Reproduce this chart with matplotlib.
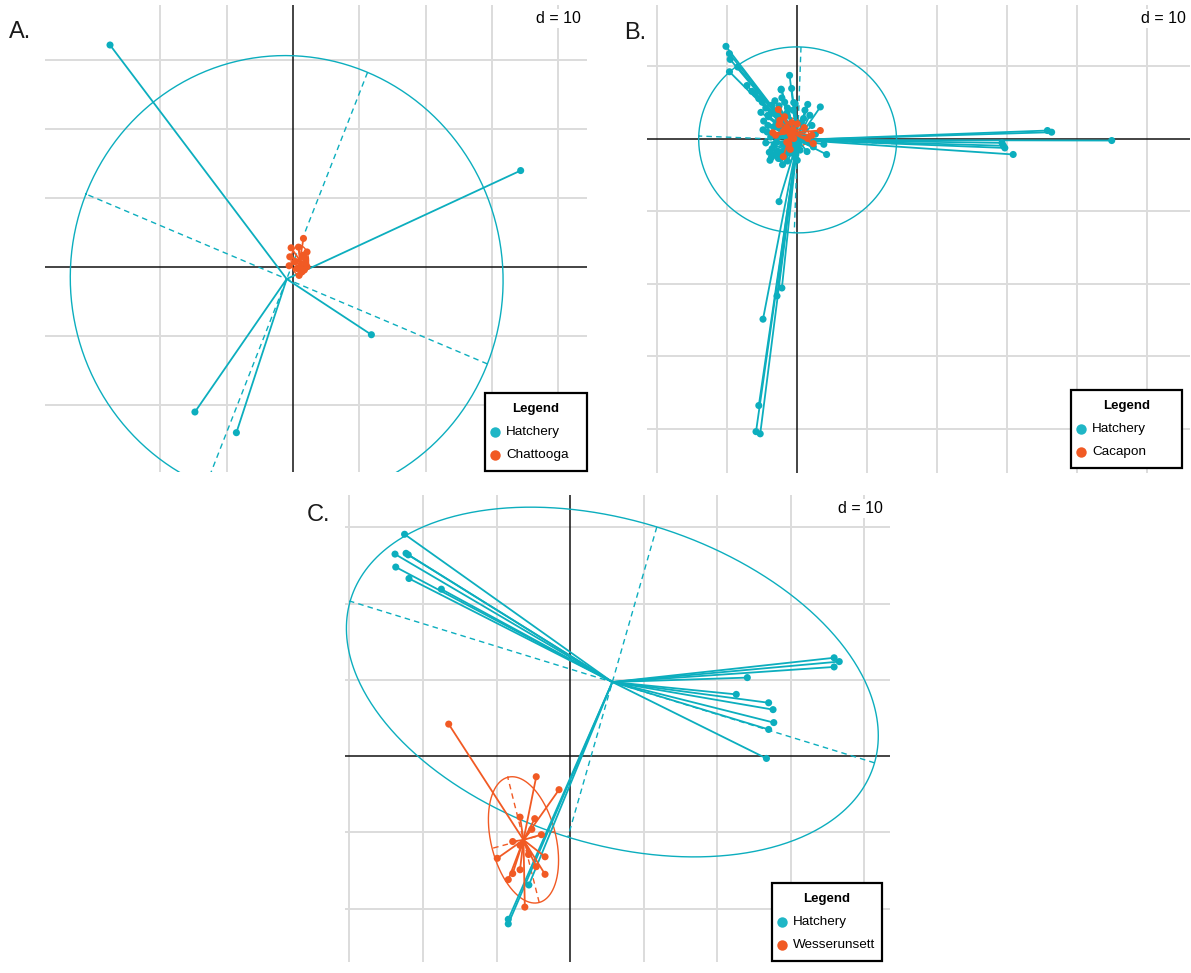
import numpy as np
import matplotlib
matplotlib.use("Agg")
import matplotlib.pyplot as plt
from matplotlib.patches import Rectangle
from matplotlib.lines import Line2D
from matplotlib.collections import LineCollection

plt.rcParams['font.family'] = ['Liberation Sans', 'DejaVu Sans']

W, H = 1191, 973
TEAL = '#0CAEBE'
TEAL_LEG = '#1FB6C6'
ORANGE = '#F15A24'
GRID = '#DCDCDC'

# ---------------- Panel A ----------------
a_hatch_x = [-27.6, 34.3, 11.8, -14.8, -8.55]
a_hatch_y = [32.2, 14.0, -9.8, -21.0, -24.0]
a_pop_x = [1.56, -0.3, -0.5, -0.6, 0.8, 2.1, 1.8, 1.9, 1.06, 0.56, 1.3, 0.9, 1.7, 2.1, 1.56, 0.3]
a_pop_y = [4.16, 2.8, 1.5, 0.2, 2.9, 2.2, 1.26, 0.5, 0.05, -0.2, -0.7, -1.2, -0.4, 0.05, 1.74, 0.77]
a_pop_name = "Chattooga"

# ---------------- Panel B ----------------
b_hatch_x = [
    # upper-left outliers
    -10.2, -9.7, -9.6, -9.7, -8.5,
    # right outliers
    35.8, 36.4, 45.0, 29.3, 29.5, 29.7, 30.9,
    # lower outliers
    -2.6, -4.9, -2.9, -2.2, -5.5, -5.9, -5.3,
    # central cloud
    -1.1, -2.3, -2.2, -0.3, 1.5, 3.3, -3.6, -4.2, -1.4, -2.3, -0.8,
    -4.2, -2.8, 1.4, 1.8, 3.8, 4.2, -2.7, -1.9, -0.5, 1.1, 0.9,
    -4.1, -3.4, -4.3, 2.1, 2.3, -3.4, -2.4, -1.7, -0.5, -5.5, -5.0,
    -4.5, -3.0, -3.5, -2.5, -2.0, -1.5, -1.0, -0.5, 0.0, -3.0, -2.2,
    -1.5, -0.8, 0.5, -3.8, -3.0, -2.0, -1.0, 0.2, 1.0, -1.2, -0.3,
    -2.6, -3.2, -1.8, -4.8, 0.6, -0.2, 1.6, -3.6, -4.5, -2.9, -1.4,
    -3.9, -2.1, -0.9, 0.4, -4.9, -5.2, -2.6, -1.9, -3.3, -0.6, -2.8,
    -6.5, -7.2, -6.0, -4.0, -1.6, 0.8, 2.6, -2.4, -3.7, -1.2, -0.2,
]
b_hatch_y = [
    12.7, 11.7, 10.9, 9.2, 9.85,
    1.1, 0.87, -0.28, -0.6, -1.0, -1.3, -2.2,
    -8.7, -24.9, -21.7, -20.6, -36.8, -40.4, -40.7,
    8.7, 6.7, 5.6, 4.8, 4.7, 4.35, 4.6, 3.2, 4.2, 6.8, 6.9,
    1.8, 1.65, -1.8, 3.2, -0.8, -2.2, -2.75, -2.3, 4.95, 3.9, 2.75,
    3.0, 1.6, 0.9, 1.8, -1.15, -2.3, -2.75, -2.1, -1.4, 5.5, 5.0,
    4.2, 3.8, 3.5, 3.0, 2.5, 3.5, 2.0, 1.5, -3.0, 2.2, 1.0,
    0.5, 0.8, 0.5, 0.2, -0.5, -0.8, -0.3, -0.8, 0.2, -1.6, -2.6,
    4.5, 5.2, 5.0, 2.4, 2.2, -2.2, -0.5, -1.4, -0.6, -1.8, -3.1,
    -3.0, -3.6, -2.0, -1.6, 1.2, 3.6, 0.3, 1.9, -0.9, 3.9, 3.9,
    6.5, 7.3, 6.2, -1.9, -0.9, -0.2, 0.6, -2.0, -2.6, -1.2, 0.4,
]
b_pop_x = [-2.7, -3.1, 3.3, 2.1, 2.3, -2.0, -1.5, 0.0, -0.5, 1.0, -2.0, -1.5, -1.0, 1.5,
           -2.5, -3.5, -1.8, -0.8, -1.2, -2.6, -0.8, -1.0, -0.6, -1.2, -0.9, -0.7]
b_pop_y = [4.0, 0.45, 1.1, 0.45, -0.7, -2.5, 1.5, 2.0, 0.0, 1.5, 1.0, -0.5, -1.5, 0.0,
           2.5, 0.8, 3.0, 2.2, -0.8, 1.9, 0.9, 0.6, 1.2, 1.0, 0.5, 0.8]
b_pop_name = "Cacapon"

# ---------------- Panel C ----------------
c_hatch_x = [-22.5, -23.8, -22.3, -22.0, -23.7, -21.9, -17.5, 35.9, 36.6, 35.9,
             24.1, 22.6, 27.0, 27.6, 27.7, 27.0, 26.7, -5.6, -8.4, -8.4]
c_hatch_y = [29.1, 26.5, 26.6, 26.4, 24.8, 23.3, 21.9, 12.9, 12.4, 11.7,
             10.3, 8.1, 7.0, 6.1, 4.4, 3.5, -0.3, -16.9, -21.4, -22.0]
c_pop_x = [-16.5, -4.6, -1.5, -6.8, -4.8, -5.2, -3.9, -7.8, -6.8, -9.9, -5.65, -3.4,
           -4.6, -6.8, -7.8, -8.4, -3.4, -6.15]
c_pop_y = [4.2, -2.7, -4.4, -8.0, -8.2, -9.6, -10.3, -11.2, -11.7, -13.4, -12.9, -13.2,
           -14.5, -14.9, -15.4, -16.2, -15.5, -19.8]
c_pop_name = "Wesserunsett"

fig = plt.figure(figsize=(W / 100, H / 100), dpi=100)


def fx(x):
    return x / W


def fy(y):
    return 1 - y / H


def add_axes_px(left, top, right, bottom):
    return fig.add_axes([left / W, 1 - bottom / H, (right - left) / W, (bottom - top) / H])


def draw_ellipse(ax, x, y, color):
    x = np.asarray(x, float)
    y = np.asarray(y, float)
    mx, my = x.mean(), y.mean()
    cov = np.cov(np.vstack([x, y]), bias=True)
    vals, vecs = np.linalg.eigh(cov)
    a = 1.5 * np.sqrt(vals[1])
    b = 1.5 * np.sqrt(vals[0])
    v1 = vecs[:, 1]
    v2 = vecs[:, 0]
    t = np.linspace(0, 2 * np.pi, 500)
    ex = mx + a * np.cos(t) * v1[0] + b * np.sin(t) * v2[0]
    ey = my + a * np.cos(t) * v1[1] + b * np.sin(t) * v2[1]
    ax.plot(ex, ey, color=color, lw=1.0, zorder=2)
    ax.plot([mx - a * v1[0], mx + a * v1[0]], [my - a * v1[1], my + a * v1[1]],
            color=color, lw=1.0, ls=(0, (4, 3)), zorder=2)
    ax.plot([mx - b * v2[0], mx + b * v2[0]], [my - b * v2[1], my + b * v2[1]],
            color=color, lw=1.0, ls=(0, (4, 3)), zorder=2)


def draw_star(ax, x, y, color, z):
    x = np.asarray(x, float)
    y = np.asarray(y, float)
    mx, my = x.mean(), y.mean()
    segs = [[(mx, my), (xi, yi)] for xi, yi in zip(x, y)]
    ax.add_collection(LineCollection(segs, colors=color, linewidths=1.3, zorder=z))
    ax.scatter(x, y, s=26, color=color, edgecolors='none', zorder=z + 0.5)


def panel(box, xlim, ylim, xgrid, ygrid, hx, hy, px, py):
    ax = add_axes_px(*box)
    ax.set_xlim(xlim)
    ax.set_ylim(ylim)
    ax.axis('off')
    for g in xgrid:
        ax.axvline(g, color=GRID, lw=1.4, zorder=0)
    for g in ygrid:
        ax.axhline(g, color=GRID, lw=1.4, zorder=0)
    ax.axvline(0, color='#111111', lw=1.1, zorder=1)
    ax.axhline(0, color='#111111', lw=1.1, zorder=1)
    draw_ellipse(ax, hx, hy, TEAL)
    draw_ellipse(ax, px, py, ORANGE)
    draw_star(ax, hx, hy, TEAL, 3)
    draw_star(ax, px, py, ORANGE, 5)
    return ax


def legend_px(x0, y0, x1, y1, name):
    fig.add_artist(Rectangle((fx(x0), fy(y1)), (x1 - x0) / W, (y1 - y0) / H,
                             transform=fig.transFigure, facecolor='white',
                             edgecolor='black', lw=1.6, zorder=5))
    cx = (x0 + x1) / 2
    fig.text(fx(cx), fy(y0 + 16), "Legend", fontsize=9.5, fontweight='bold',
             ha='center', va='center', zorder=6)
    mxp = x0 + 10
    for i, (lab, col) in enumerate([("Hatchery", TEAL_LEG), (name, ORANGE)]):
        yy = y0 + 39 + 23 * i
        fig.add_artist(Line2D([fx(mxp)], [fy(yy)], marker='o', ms=7.5, color=col,
                              markeredgewidth=0, transform=fig.transFigure, zorder=6))
        fig.text(fx(mxp + 11), fy(yy), lab, fontsize=9.7, ha='left', va='center', zorder=6)


# Panel A
panel((45, 5, 587, 472), (-37.4, 44.3), (-29.7, 38.0),
      [-20, -10, 10, 20, 30, 40], [-20, -10, 10, 20, 30],
      a_hatch_x, a_hatch_y, a_pop_x, a_pop_y)
# Panel B
panel((647, 5, 1190, 473), (-21.5, 56.2), (-46.1, 18.4),
      [-20, -10, 10, 20, 30, 40, 50], [-40, -30, -20, -10, 10],
      b_hatch_x, b_hatch_y, b_pop_x, b_pop_y)
# Panel C
panel((345, 495, 890, 962), (-30.6, 43.5), (-27.0, 34.25),
      [-30, -20, -10, 10, 20, 30, 40], [-20, -10, 10, 20, 30],
      c_hatch_x, c_hatch_y, c_pop_x, c_pop_y)

# d = 10 labels
for (xr, yb) in [(581, 23), (1186, 23), (883, 513)]:
    fig.text(fx(xr), fy(yb), "d = 10", fontsize=11.5, ha='right', va='baseline',
             bbox=dict(facecolor='white', edgecolor='none', pad=1.5), zorder=6)

# panel letters
for (xl, yb, lab) in [(9, 38, "A."), (624, 39, "B."), (307, 521, "C.")]:
    fig.text(fx(xl), fy(yb), lab, fontsize=17, ha='left', va='baseline', color='#1a1a1a')

# legends
legend_px(485, 393, 587, 471, a_pop_name)
legend_px(1071, 390, 1182, 468, b_pop_name)
legend_px(772, 883, 882, 961, c_pop_name)

fig.savefig("out.png", dpi=100, facecolor='white')
